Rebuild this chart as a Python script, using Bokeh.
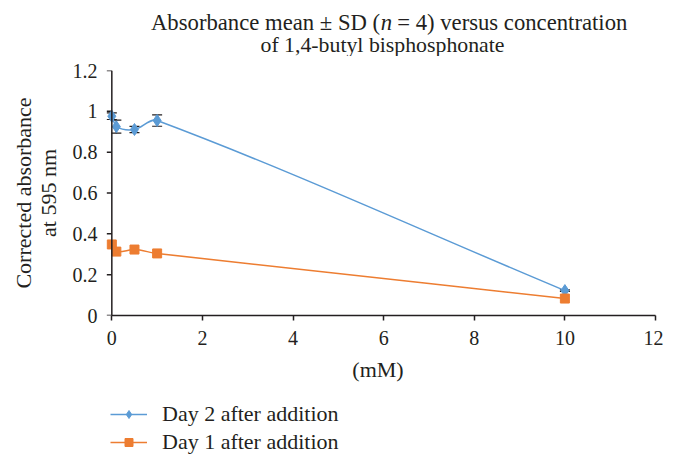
import numpy as np
from bokeh.plotting import figure
from bokeh.layouts import column
from bokeh.models import (ColumnDataSource, Legend, LegendItem, Whisker, TeeHead,
                          FixedTicker, Range1d, Label, Span)
from bokeh.embed import file_html
from bokeh.resources import INLINE

# ---- data ----
conc = [0, 0.1, 0.5, 1, 10]
day2_mean = [0.976, 0.925, 0.911, 0.955, 0.122]
day2_sd = [0.016, 0.032, 0.015, 0.028, 0.004]
day1_mean = [0.348, 0.313, 0.323, 0.304, 0.083]
x_ticks = [0, 2, 4, 6, 8, 10, 12]
y_ticks = [0, 0.2, 0.4, 0.6, 0.8, 1.0, 1.2]
y_tick_labels = {0: "0", 0.2: "0.2", 0.4: "0.4", 0.6: "0.6", 0.8: "0.8", 1.0: "1", 1.2: "1.2"}
series_names = ["Day 2 after addition", "Day 1 after addition"]
title_parts = ["Absorbance mean \u00b1 SD (", "n", "= 4) versus concentration"]
title_line2 = "of 1,4-butyl bisphosphonate"

BLUE = "#5B9BD5"
ORANGE = "#ED7D31"
INK = "#231f20"
FONT = "Liberation Serif"
W = 663
ML, MR = 100, 8          # frame left / right borders shared by all panels
X_PAD = 0.25             # room left of x=0 so markers on the axis are not clipped


def smooth_segments(xs, ys):
    """Cubic Hermite (Excel-style smoothed line) control points from data."""
    xs = np.asarray(xs, float)
    ys = np.asarray(ys, float)
    n = len(xs)
    m = np.zeros(n)
    for i in range(n):
        if i == 0:
            m[i] = (ys[1] - ys[0]) / (xs[1] - xs[0])
        elif i == n - 1:
            m[i] = (ys[-1] - ys[-2]) / (xs[-1] - xs[-2])
        else:
            m[i] = (ys[i + 1] - ys[i - 1]) / (xs[i + 1] - xs[i - 1])
    h = xs[1:] - xs[:-1]
    return dict(
        x0=xs[:-1], y0=ys[:-1], x1=xs[1:], y1=ys[1:],
        cx0=xs[:-1] + h / 3, cy0=ys[:-1] + m[:-1] * h / 3,
        cx1=xs[1:] - h / 3, cy1=ys[1:] - m[1:] * h / 3,
    )


def blank(height):
    f = figure(width=W, height=height, output_backend="svg", toolbar_location=None,
               min_border_left=ML, min_border_right=MR, min_border_top=0,
               min_border_bottom=0, x_range=Range1d(ML, W - MR),
               y_range=Range1d(0, height))
    f.outline_line_color = None
    f.axis.visible = False
    f.grid.visible = False
    f.title = None
    return f


# ---- title panel ----
TH = 56
FS = 22.7
tf = blank(TH)
tkw = dict(text_font=FONT, text_color=INK, text_baseline="middle")
w_part1 = 10.117 * FS
w_n = 0.5 * FS
w_space = 0.25 * FS
xmid = 152 + w_part1 - 2
tf.add_layout(Label(x=xmid, y=TH - 22, text=title_parts[0], text_align="right",
                    text_font_size=f"{FS}px", **tkw))
tf.add_layout(Label(x=xmid + 0.5, y=TH - 22, text=title_parts[1], text_align="left",
                    text_font_style="italic", text_font_size=f"{FS}px", **tkw))
tf.add_layout(Label(x=xmid + w_n + w_space, y=TH - 22, text=title_parts[2],
                    text_align="left", text_font_size=f"{FS}px", **tkw))
tf.add_layout(Label(x=382, y=TH - 44, text=title_line2, text_align="center",
                    text_font_size="21.8px", **tkw))

# ---- main chart ----
p = figure(width=W, height=329, output_backend="svg", toolbar_location=None,
           x_range=Range1d(-X_PAD, 12), y_range=Range1d(0, 1.2),
           min_border_left=ML, min_border_right=MR, min_border_top=14,
           min_border_bottom=70)
p.title = None
p.outline_line_color = None
p.grid.visible = False
p.background_fill_color = "white"
p.border_fill_color = "white"

for ax in (p.xaxis[0], p.yaxis[0]):
    ax.axis_line_color = INK
    ax.axis_line_width = 1.5
    ax.major_tick_line_color = INK
    ax.major_tick_line_width = 1.5
    ax.major_tick_out = 5
    ax.major_tick_in = 0
    ax.minor_tick_line_color = None
    ax.major_label_text_font = FONT
    ax.major_label_text_font_size = "20px"
    ax.major_label_text_color = INK
    ax.axis_label_text_font = FONT
    ax.axis_label_text_font_size = "22px"
    ax.axis_label_text_font_style = "normal"
    ax.axis_label_text_color = INK
    ax.axis_label_text_line_height = 1.0

p.xaxis.ticker = FixedTicker(ticks=x_ticks)
p.yaxis.ticker = FixedTicker(ticks=y_ticks)
p.yaxis.major_label_overrides = y_tick_labels
p.xaxis.bounds = (0, 12)
p.xaxis.axis_label = "(mM)"
p.yaxis.axis_label = "Corrected absorbance\nat 595 nm"
p.xaxis.major_label_standoff = 10
p.xaxis.axis_label_standoff = 9
# the y axis line and its ticks are drawn at x = 0 (inside the frame) below
p.yaxis.axis_line_color = None
p.yaxis.major_tick_line_color = None
p.yaxis.major_tick_out = 0
p.yaxis.major_label_standoff = 3
p.yaxis.axis_label_standoff = 9

p.add_layout(Span(location=0, dimension="height", line_color=INK, line_width=1.5))
p.ray(x=[0] * len(y_ticks), y=y_ticks, length=5, length_units="screen",
      angle=np.pi, line_color=INK, line_width=1.5)

b2 = ColumnDataSource(smooth_segments(conc, day2_mean))
b1 = ColumnDataSource(smooth_segments(conc, day1_mean))
p.bezier(x0="x0", y0="y0", x1="x1", y1="y1", cx0="cx0", cy0="cy0",
         cx1="cx1", cy1="cy1", source=b2, line_color=BLUE, line_width=1.5)
p.bezier(x0="x0", y0="y0", x1="x1", y1="y1", cx0="cx0", cy0="cy0",
         cx1="cx1", cy1="cy1", source=b1, line_color=ORANGE, line_width=1.5)

err = ColumnDataSource(dict(x=conc,
                            lo=[m - s for m, s in zip(day2_mean, day2_sd)],
                            hi=[m + s for m, s in zip(day2_mean, day2_sd)]))
p.add_layout(Whisker(base="x", lower="lo", upper="hi", source=err,
                     line_color=INK, line_width=1.2,
                     upper_head=TeeHead(size=10, line_color=INK, line_width=1.2),
                     lower_head=TeeHead(size=10, line_color=INK, line_width=1.2)))

src2 = ColumnDataSource(dict(x=conc, y=day2_mean))
src1 = ColumnDataSource(dict(x=conc, y=day1_mean))
p.scatter("x", "y", source=src2, marker="diamond", size=12,
          fill_color=BLUE, line_color=BLUE)
p.scatter("x", "y", source=src1, marker="square", size=9,
          fill_color=ORANGE, line_color=ORANGE)

# ---- legend panel ----
lf = blank(72)
e2 = ColumnDataSource(dict(x=[np.nan], y=[np.nan]))
e1 = ColumnDataSource(dict(x=[np.nan], y=[np.nan]))
l2 = lf.line("x", "y", source=e2, line_color=BLUE, line_width=1.5)
m2 = lf.scatter("x", "y", source=e2, marker="diamond", size=10, fill_color=BLUE, line_color=BLUE)
l1 = lf.line("x", "y", source=e1, line_color=ORANGE, line_width=1.5)
m1 = lf.scatter("x", "y", source=e1, marker="square", size=8, fill_color=ORANGE, line_color=ORANGE)

legend = Legend(items=[LegendItem(label=series_names[0], renderers=[l2, m2]),
                       LegendItem(label=series_names[1], renderers=[l1, m1])],
                orientation="vertical", location=(110 - ML, 2))
legend.label_text_font = FONT
legend.label_text_font_size = "22px"
legend.label_text_color = INK
legend.glyph_width = 37
legend.glyph_height = 20
legend.label_height = 20
legend.label_standoff = 15
legend.spacing = 2
legend.padding = 0
legend.margin = 0
legend.border_line_color = None
legend.background_fill_alpha = 0
lf.add_layout(legend, "center")

layout = column(tf, p, lf, spacing=0)
open("out.html", "w").write(file_html(layout, INLINE))
